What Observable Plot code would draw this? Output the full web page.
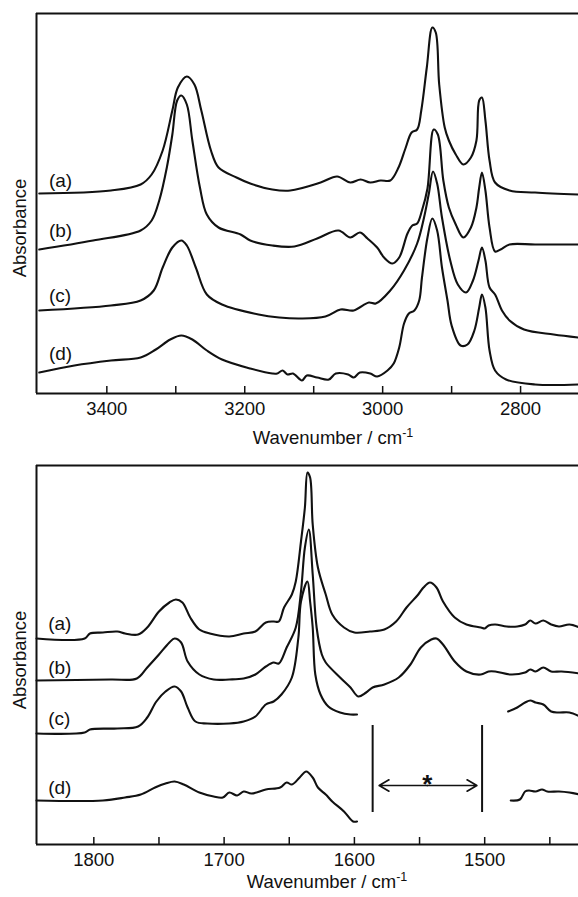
<!DOCTYPE html>
<html><head><meta charset="utf-8">
<script src="https://cdn.jsdelivr.net/npm/d3@7"></script>
<script src="https://cdn.jsdelivr.net/npm/@observablehq/plot@0.6"></script>
<style>
body{margin:0;background:#fff;}
#chart{width:578px;height:897px;overflow:hidden;}
svg{display:block;}
</style>
</head><body><div id="chart"></div>
<script>
// ---------- Top panel: C-H / N-H stretching region (wavenumber, absorbance in arbitrary units) ----------
const highTicksLabelled = [3400, 3200, 3000, 2800];
const highTicksAll = [3400, 3300, 3200, 3100, 3000, 2900, 2800];
const highA = [[3498,200],[3394,203],[3351,209],[3335,219],[3319,243],[3305,283],[3297,306],[3284,317],[3273,309],[3263,283],[3249,243],[3238,226],[3212,216],[3192,210],[3160,204],[3134,203],[3090,211],[3066,217],[3047,211],[3032,214],[3018,211],[3003,213],[2989,213],[2977,226],[2967,245],[2958,261],[2950,264],[2944,283],[2936,326],[2928,366],[2923,361],[2918,309],[2910,266],[2904,253],[2894,239],[2883,229],[2872,236],[2864,253],[2860,293],[2856,296],[2851,273],[2845,233],[2837,211],[2816,203],[2779,201],[2716,199]];
const highB = [[3498,144],[3420,153],[3351,163],[3335,173],[3324,193],[3313,226],[3305,259],[3298,293],[3292,298],[3284,289],[3276,253],[3265,206],[3255,179],[3238,166],[3206,159],[3192,153],[3160,148],[3128,147],[3095,155],[3064,163],[3047,156],[3033,161],[3022,155],[3008,146],[2998,136],[2986,130],[2976,136],[2964,160],[2957,168],[2950,170],[2943,183],[2935,205],[2926,264],[2920,259],[2912,213],[2904,186],[2894,169],[2883,156],[2872,166],[2864,186],[2860,206],[2856,221],[2851,203],[2845,166],[2837,142],[2829,144],[2816,149],[2779,149],[2716,149]];
const highC = [[3498,83],[3394,88],[3351,93],[3332,103],[3319,126],[3305,146],[3292,153],[3284,148],[3271,126],[3255,99],[3233,89],[3180,79],[3150,76],[3119,75],[3083,77],[3061,84],[3042,83],[3020,91],[3010,90],[2989,103],[2969,123],[2950,150],[2940,176],[2933,200],[2927,222],[2921,210],[2914,176],[2902,133],[2891,109],[2879,101],[2869,113],[2861,133],[2856,146],[2851,133],[2845,106],[2837,99],[2827,83],[2816,73],[2795,64],[2752,59],[2716,56]];
const highD = [[3498,21],[3447,28],[3394,33],[3351,36],[3329,44],[3308,54],[3292,58],[3276,54],[3255,43],[3233,34],[3192,25],[3160,20],[3153,20],[3145,23],[3138,19],[3130,20],[3117,13],[3110,18],[3095,16],[3078,14],[3068,20],[3050,19],[3042,16],[3033,21],[3018,20],[3008,17],[2993,23],[2984,30],[2976,46],[2969,70],[2962,80],[2954,83],[2947,93],[2943,116],[2935,156],[2928,175],[2921,163],[2914,126],[2906,93],[2900,68],[2887,48],[2877,49],[2867,63],[2860,86],[2856,99],[2851,86],[2845,43],[2837,23],[2821,14],[2779,9],[2716,9]];
const highLabels = [["(a)",213],["(b)",163],["(c)",98],["(d)",40]];

// ---------- Bottom panel: amide / carbonyl region ----------
const lowTicksLabelled = [1800, 1700, 1600, 1500];
const lowTicksAll = [1800, 1750, 1700, 1650, 1600, 1550, 1500, 1450];
const lowA = [[1844,206],[1807,206],[1803,211],[1793,212],[1782,213],[1776,211],[1766,210],[1759,217],[1750,233],[1742,242],[1737,245],[1732,242],[1726,227],[1719,215],[1711,211],[1696,208],[1685,211],[1676,213],[1668,222],[1662,223],[1658,223],[1654,237],[1648,250],[1645,263],[1641,303],[1638,337],[1636,372],[1634,367],[1632,320],[1628,277],[1622,250],[1617,230],[1608,217],[1600,212],[1588,213],[1577,215],[1568,223],[1560,237],[1551,250],[1547,257],[1542,262],[1537,257],[1532,243],[1523,227],[1514,220],[1503,217],[1500,216],[1497,219],[1492,220],[1483,218],[1475,218],[1469,220],[1465,224],[1461,221],[1455,224],[1449,220],[1443,218],[1435,220],[1427,217]];
const lowB = [[1844,164],[1787,165],[1767,166],[1759,177],[1750,190],[1742,202],[1738,206],[1733,202],[1728,183],[1719,170],[1708,165],[1696,165],[1685,166],[1676,170],[1668,178],[1662,182],[1658,181],[1652,197],[1645,217],[1641,253],[1638,297],[1635,315],[1632,270],[1629,217],[1625,190],[1622,182],[1611,167],[1603,157],[1597,148],[1591,152],[1586,157],[1577,160],[1566,167],[1557,180],[1549,197],[1541,205],[1537,206],[1532,200],[1523,183],[1514,173],[1503,170],[1497,173],[1492,173],[1480,170],[1469,172],[1465,175],[1461,173],[1455,177],[1449,173],[1441,173],[1427,171]];
const lowC = [[1844,111],[1807,112],[1803,115],[1782,116],[1766,118],[1759,127],[1752,143],[1745,153],[1738,158],[1733,153],[1728,137],[1722,123],[1713,121],[1696,121],[1685,123],[1676,128],[1668,140],[1662,143],[1656,150],[1648,167],[1643,207],[1641,243],[1636,263],[1634,243],[1632,217],[1630,170],[1626,150],[1620,138],[1611,132],[1603,130],[1598,130],[1590,null],[1482,133],[1475,137],[1469,142],[1465,144],[1461,142],[1455,140],[1449,133],[1443,132],[1435,132],[1427,128]];
const lowD = [[1844,44],[1793,44],[1776,47],[1764,50],[1753,57],[1745,61],[1738,63],[1731,60],[1719,52],[1708,48],[1701,47],[1696,52],[1690,49],[1685,53],[1679,51],[1668,55],[1657,57],[1652,62],[1648,60],[1642,67],[1637,73],[1632,67],[1628,57],[1622,50],[1617,43],[1608,33],[1601,23],[1598,23],[1590,null],[1480,44],[1473,45],[1469,53],[1466,54],[1461,53],[1456,55],[1452,53],[1443,53],[1435,52],[1427,50]];
const lowLabels = [["(a)",221],["(b)",177],["(c)",126],["(d)",57]];
// excluded-region marker (*)
const gapBounds = [1586, 1502];
const gapSpan = [32, 119];
const gapArrowEnds = [1581, 1506];
const gapArrowLevel = 59;
const gapStar = [1544, 60];

const FONT = "'Liberation Sans', Arial, Helvetica, sans-serif";
const INK = "#111";

function panel({xDomain, yMax, ticksAll, ticksLabelled, series, labels, labelX, height, mt, mb, extra = []}) {
  return Plot.plot({
    width: 578, height,
    marginLeft: 36, marginRight: 0, marginTop: mt, marginBottom: mb,
    x: {domain: xDomain},
    y: {domain: [0, yMax], axis: null},
    style: {fontFamily: FONT, fontSize: "18px", color: INK, background: "white", overflow: "hidden"},
    marks: [
      Plot.axisX(ticksLabelled, {tickSize: 0, tickPadding: 8, tickFormat: d => String(d), label: null, fontSize: 18.5}),
      Plot.ruleX(ticksAll, {y1: 0, y2: 7, stroke: INK, strokeWidth: 1.5}),
      Plot.ruleY([0, yMax], {stroke: INK, strokeWidth: 2}),
      Plot.ruleX([xDomain[0]], {stroke: INK, strokeWidth: 2}),
      ...series.map(s => Plot.line(s, {x: d => d[0], y: d => d[1], curve: "catmull-rom", stroke: INK, strokeWidth: 2.1})),
      Plot.text(labels, {x: labelX, y: d => d[1], text: d => d[0], textAnchor: "start", fontSize: 19, fill: INK}),
      ...extra
    ]
  });
}

function addTitles(svgNode, titleX, titleY, yLabelCenter) {
  const svg = d3.select(svgNode);
  const t = svg.append("text").attr("x", titleX).attr("y", titleY)
    .attr("text-anchor", "middle").attr("font-family", FONT).attr("font-size", 18.5).attr("fill", INK);
  t.append("tspan").text("Wavenumber / cm");
  t.append("tspan").attr("dy", -7).attr("font-size", 12.5).text("-1");
  svg.append("text").attr("transform", `translate(26,${yLabelCenter}) rotate(-90)`)
    .attr("text-anchor", "middle").attr("font-family", FONT).attr("font-size", 18.5).attr("fill", INK)
    .text("Absorbance");
}

const topPlot = panel({
  xDomain: [3502, 2716], yMax: 380,
  ticksAll: highTicksAll, ticksLabelled: highTicksLabelled,
  series: [highA, highB, highC, highD], labels: highLabels, labelX: 3484,
  height: 452, mt: 13, mb: 59
});
addTitles(topPlot, 333, 444, 228);

const bottomPlot = panel({
  xDomain: [1844, 1428], yMax: 379,
  ticksAll: lowTicksAll, ticksLabelled: lowTicksLabelled,
  series: [lowA, lowB, lowC, lowD], labels: lowLabels, labelX: 1835,
  height: 445, mt: 13, mb: 53,
  extra: [
    Plot.ruleX(gapBounds, {y1: gapSpan[0], y2: gapSpan[1], stroke: INK, strokeWidth: 2}),
    Plot.arrow(gapArrowEnds, {x1: gapStar[0], x2: d => d, y1: gapArrowLevel, y2: gapArrowLevel, bend: 0, headLength: 10, stroke: INK, strokeWidth: 1.7, inset: 0}),
    Plot.text([gapStar], {x: d => d[0], y: d => d[1], text: () => "*", fontSize: 26, fontWeight: "bold", fill: INK})
  ]
});
addTitles(bottomPlot, 327, 436, 208);

document.getElementById("chart").append(topPlot, bottomPlot);
</script></body></html>
